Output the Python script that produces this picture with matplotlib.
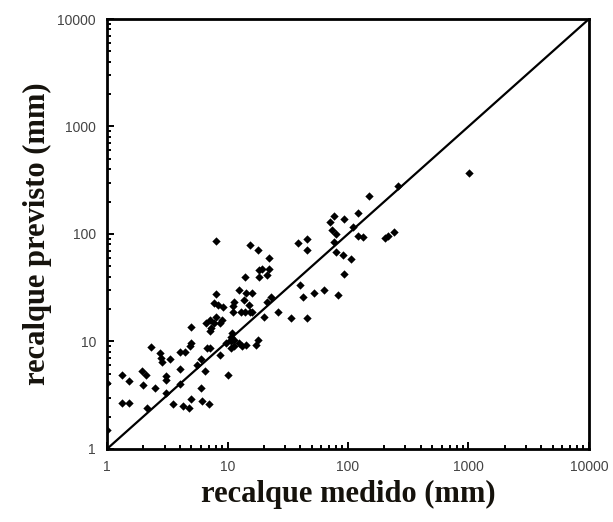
import matplotlib
matplotlib.use("Agg")
import matplotlib.pyplot as plt
from matplotlib.ticker import LogLocator, FixedLocator, FixedFormatter, NullFormatter

# measured settlement (mm)
medido = [1.0, 1.0, 1.32, 1.32, 1.51, 1.51, 1.96, 2.11, 1.98, 2.16,
          2.33, 2.5, 2.74, 2.85, 2.8, 3.07, 3.07, 3.07, 3.3, 3.56,
          4.05, 4.0, 4.05, 4.46, 4.3, 4.8, 4.9, 5.0, 5.0, 5.0,
          5.6, 6.0, 6.0, 6.1, 6.5, 6.6, 6.7, 7.0, 7.2, 7.2,
          7.3, 7.2, 7.7, 8.1, 8.1, 7.7, 8.4, 8.1, 8.7, 9.0,
          9.2, 8.7, 9.8, 10.1, 10.6, 10.6, 10.7, 10.9, 11.3, 11.3,
          11.2, 11.2, 11.3, 12.4, 12.4, 13.2, 13.0, 13.7, 14.0, 14.2,
          14.2, 14.0, 15.1, 15.3, 15.5, 15.9, 15.9, 17.1, 17.8, 18.2,
          18.4, 18.0, 19.5, 19.9, 21.4, 21.9, 21.9, 21.4, 23.1, 26.2,
          33.6, 38.1, 39.6, 42.0, 45.3, 45.3, 45.3, 52.6, 63.4, 70.9,
          76.4, 74.3, 76.4, 80.2, 80.2, 82.4, 90.7, 92.1, 92.8, 105.0,
          111.0, 120.0, 120.0, 134.0, 150.0, 202.0, 213.0, 240.0, 262.0, 1007.0]

# predicted settlement (mm)
previsto = [4.1, 1.5, 4.9, 2.7, 2.7, 4.3, 5.3, 4.9, 3.9, 2.4,
            8.8, 3.7, 7.8, 6.5, 7.0, 4.75, 4.4, 3.3, 6.8, 2.6,
            5.5, 4.0, 7.9, 7.9, 2.5, 2.4, 9.0, 9.7, 13.7, 2.9,
            6.1, 6.8, 3.7, 2.8, 5.3, 14.8, 8.7, 2.6, 8.7, 12.4,
            13.3, 15.8, 15.0, 86.8, 27.9, 22.6, 21.8, 17.0, 7.5, 15.8,
            21.0, 15.0, 9.7, 4.9, 8.7, 10.0, 11.1, 11.9, 9.0, 10.3,
            18.9, 21.4, 23.4, 30.0, 9.7, 9.0, 18.9, 24.2, 18.9, 9.3,
            28.0, 39.8, 21.8, 18.9, 79.6, 28.0, 18.9, 9.3, 10.3, 39.8,
            45.9, 70.2, 47.6, 17.0, 41.3, 60.0, 47.6, 23.4, 26.0, 18.9,
            16.4, 82.6, 33.3, 26.0, 89.9, 70.2, 16.7, 28.3, 30.4, 128.0,
            147.6, 108.9, 83.8, 100.0, 67.7, 27.0, 63.1, 42.7, 137.0, 58.8,
            117.0, 158.0, 96.5, 93.2, 226.0, 91.8, 94.8, 104.0, 279.0, 371.0]

# 1:1 reference line
linha = [1, 10000]

major_ticks = [1, 10, 100, 1000, 10000]
major_labels = ["1", "10", "100", "1000", "10000"]

fig = plt.figure(figsize=(6.13, 5.22), dpi=100)
ax = fig.add_axes([0.1746, 0.140, 0.7862, 0.8236])

ax.plot(linha, linha, color="black", lw=1.6, zorder=2)
ax.scatter(medido, previsto, marker="D", s=18, color="black", linewidths=0, zorder=3)

ax.set_xscale("log")
ax.set_yscale("log")
ax.set_xlim(1, 10000)
ax.set_ylim(1, 10000)

for a in (ax.xaxis, ax.yaxis):
    a.set_major_locator(FixedLocator(major_ticks))
    a.set_major_formatter(FixedFormatter(major_labels))
    a.set_minor_locator(LogLocator(base=10, subs=range(2, 10)))
    a.set_minor_formatter(NullFormatter())

ax.tick_params(which="both", direction="in", top=False, right=False,
               labelsize=10, labelcolor="#444444", width=1.4, color="black")
ax.tick_params(which="major", length=5, pad=8)
ax.tick_params(which="minor", length=3)
for t in ax.get_xticklabels() + ax.get_yticklabels():
    t.set_family(["Liberation Sans", "DejaVu Sans"])

for s in ax.spines.values():
    s.set_linewidth(2.0)

lbl = dict(family=["Liberation Serif", "DejaVu Serif"], fontweight="bold", fontsize=22, color="#15120c")
ax.set_xlabel("recalque medido (mm)", labelpad=4, **lbl)
ax.set_ylabel("recalque previsto (mm)", labelpad=4, **lbl)

fig.savefig("out.png", dpi=100)
